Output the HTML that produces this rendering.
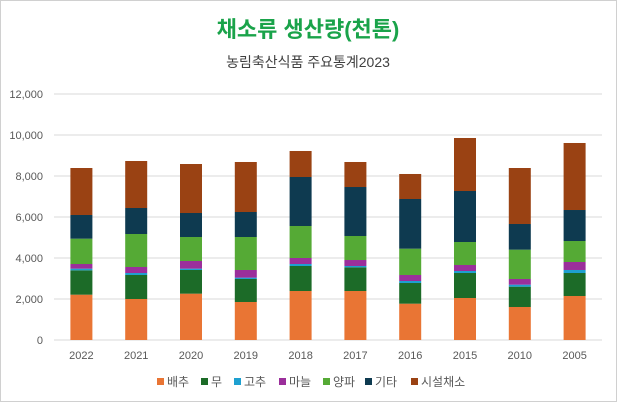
<!DOCTYPE html>
<html><head><meta charset="utf-8"><style>
body{margin:0;background:#fff;}
#wrap{position:relative;width:615px;height:400px;border:1px solid #d0d0d0;overflow:hidden;font-family:"Liberation Sans","Noto Sans CJK KR",sans-serif;}
svg text{font-family:"Liberation Sans","Noto Sans CJK KR",sans-serif;}
</style></head><body>
<div id="wrap">
<svg id="chart" width="615" height="400">
<text x="307" y="36" text-anchor="middle" font-size="22" font-weight="bold" fill="#1aa34a">채소류 생산량(천톤)</text>
<text x="307" y="66" text-anchor="middle" font-size="14" fill="#404040">농림축산식품 주요통계2023</text>
<g id="grid"></g><g id="bars"></g><g id="xlab"></g><g id="legend"></g>
</svg>
</div>
<script>
const categories=["2022","2021","2020","2019","2018","2017","2016","2015","2010","2005"];
const seriesNames=["배추","무","고추","마늘","양파","기타","시설채소"];
const seriesColors=["#e97534","#1c6b28","#1ea0d0","#9b2f9b","#55aa35","#0e3a50","#9a4213"];
const cabbage=[2211,2000,2260,1854,2390,2390,1772,2049,1610,2146];
const radish=[1187,1171,1155,1122,1220,1155,1008,1219,992,1122];
const pepper=[82,97,65,65,97,65,98,98,97,147];
const garlic=[227,293,374,374,293,292,293,293,277,390];
const onion=[1236,1610,1170,1609,1561,1171,1284,1121,1431,1024];
const other=[1155,1268,1171,1220,2390,2390,2423,2488,1252,1512];
const greenhouse=[2292,2293,2390,2439,1269,1220,1220,2586,2731,3269];
const yTicks=[0,2000,4000,6000,8000,10000,12000];
const series=[cabbage,radish,pepper,garlic,onion,other,greenhouse];
const NS="http://www.w3.org/2000/svg";
const x0=53,x1=601,yBase=339,yMax=12000,yTop=93;
const y=v=>yBase-(v/yMax)*(yBase-yTop);
const step=(x1-x0)/categories.length;
const xc=i=>x0+step*(i+0.5);
const bw=22;
function mk(tag,attrs,parent){const e=document.createElementNS(NS,tag);for(const k in attrs)e.setAttribute(k,attrs[k]);parent.appendChild(e);return e;}
const grid=document.getElementById('grid');
yTicks.forEach(t=>{
 const l=mk('line',{x1:x0,x2:x1,y1:y(t),y2:y(t),stroke:'#d9d9d9','stroke-width':1},grid);
 
 
 const tx=mk('text',{x:42,y:y(t)+4,'text-anchor':'end','font-size':11,fill:'#595959'},grid);
 tx.textContent=t.toLocaleString('en-US');
 
 
});
const bars=document.getElementById('bars');
categories.forEach((c,i)=>{
 let acc=0;
 series.forEach((s,j)=>{
  const v=s[i];
  const r=mk('rect',{x:xc(i)-bw/2,y:y(acc+v),width:bw,height:y(acc)-y(acc+v),fill:seriesColors[j]},bars);
  
  
  acc+=v;
 });
 const t=mk('text',{x:xc(i),y:358,'text-anchor':'middle','font-size':11,fill:'#595959'},document.getElementById('xlab'));
 t.textContent=c;
 
 
});
const lg=document.getElementById('legend');
const lx=[156,200,233,278,322,364,410];
seriesNames.forEach((n,j)=>{
 const r=mk('rect',{x:lx[j],y:377,width:7,height:7,fill:seriesColors[j]},lg);
 
 
 const t=mk('text',{x:lx[j]+10,y:385,'font-size':12,fill:'#595959'},lg);
 t.textContent=n;
 
 
});
</script>
</body></html>
